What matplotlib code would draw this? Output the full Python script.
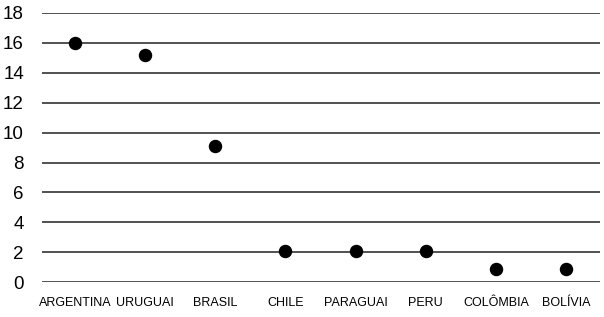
import numpy as np
import matplotlib.pyplot as plt

plt.rcParams['font.family'] = ['Liberation Sans', 'DejaVu Sans']

paises = ["ARGENTINA", "URUGUAI", "BRASIL", "CHILE", "PARAGUAI", "PERU", "COLÔMBIA", "BOLÍVIA"]
valores = [16, 15.2, 9.1, 2.1, 2.1, 2.1, 0.9, 0.9]
yticks = [0, 2, 4, 6, 8, 10, 12, 14, 16, 18]

fig = plt.figure(figsize=(6.04, 3.17), dpi=100)
ax = fig.add_axes([0.0695, 0.110, 0.9235, 0.849])

x = np.arange(len(paises))
ax.scatter(x, valores, s=75, color='black', zorder=3)

ax.set_ylim(0, 18)
ax.set_xlim(-0.47, 7.48)
ax.set_yticks(yticks)
ax.set_yticklabels([str(v) for v in yticks], fontsize=13.5)
ax.set_xticks(x)
ax.set_xticklabels(paises, fontsize=9)
ax.tick_params(axis='both', length=0)
ax.tick_params(axis='x', pad=11)
ax.tick_params(axis='y', pad=13)

ax.grid(axis='y', color='#222222', linewidth=1.1)
ax.set_axisbelow(True)
for s in ax.spines.values():
    s.set_visible(False)

fig.savefig("out.png", dpi=100)
